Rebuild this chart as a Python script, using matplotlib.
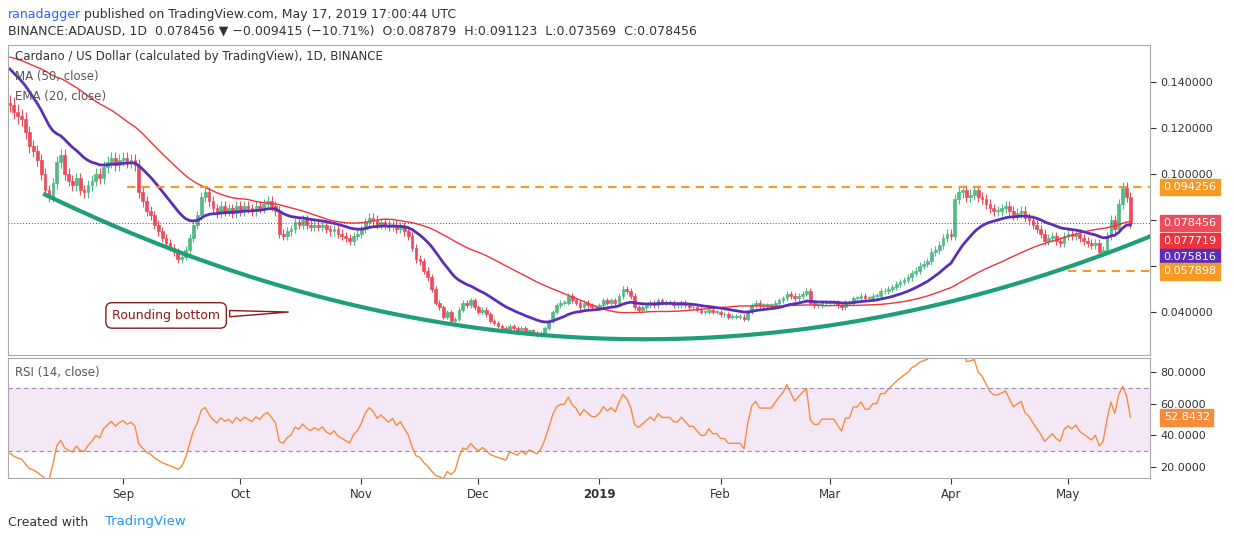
import numpy as np
import pandas as pd
import matplotlib
matplotlib.use("Agg")
import matplotlib.pyplot as plt
from matplotlib.patches import Rectangle

# closes before the visible window (warm-up for MA / RSI), mid-June to Aug 2 2018
pre = [.150,.148,.152,.155,.150,.146,.140,.136,.138,.142,.145,.140,.137,.141,.146,.150,.148,.152,.156,.160,
       .158,.154,.150,.147,.151,.156,.162,.166,.170,.168,.165,.160,.163,.168,.172,.170,.166,.160,.155,.150,
       .152,.148,.144,.140,.142,.138,.135,.133,.131]
aug = [.130,.127,.125,.124,.118,.112,.110,.106,.100,.093,.090,.096,.105,.108,.100,.097,.095,.098,.093,.092,.095,.097,.100,.098,.103,.105,.107,.104,.106]
sep = [.107,.105,.106,.104,.092,.088,.084,.082,.078,.075,.072,.070,.068,.066,.063,.064,.067,.072,.078,.082,.090,.092,.088,.085,.083,.086,.084,.085,.083,.086]
oct_ = [.084,.086,.085,.084,.086,.085,.087,.088,.086,.084,.074,.073,.075,.076,.079,.078,.080,.078,.077,.078,.077,.078,.076,.075,.076,.074,.073,.072,.071,.073,.074]
nov = [.076,.079,.081,.080,.078,.079,.078,.077,.078,.076,.077,.075,.073,.068,.063,.062,.058,.055,.050,.044,.042,.038,.040,.036,.037,.041,.044,.043,.045,.042]
dec = [.040,.041,.039,.036,.035,.034,.033,.032,.034,.033,.032,.033,.031,.032,.031,.030,.031,.033,.036,.040,.043,.044,.044,.047,.045,.044,.042,.044,.043,.042,.042]
jan = [.043,.045,.044,.045,.044,.047,.050,.049,.047,.042,.041,.042,.043,.044,.043,.045,.044,.044,.044,.043,.043,.044,.043,.042,.042,.041,.040,.040,.041,.040,.040]
feb = [.039,.039,.038,.038,.038,.038,.037,.040,.043,.044,.043,.043,.043,.043,.044,.045,.046,.048,.047,.046,.047,.048,.049,.044,.043,.043,.044,.044]
mar = [.044,.044,.043,.042,.044,.044,.046,.046,.047,.046,.046,.047,.047,.049,.049,.050,.051,.052,.053,.054,.055,.057,.058,.060,.061,.062,.066,.067,.069,.072,.074]
apr = [.073,.089,.092,.093,.090,.091,.093,.090,.089,.087,.085,.084,.084,.085,.086,.084,.082,.083,.084,.081,.080,.078,.076,.074,.071,.072,.073,.071,.070,.073]
may = [.074,.073,.074,.072,.071,.070,.069,.070,.066,.067,.073,.080,.076,.087,.094,.090,.078456]
month_labels = ["Sep", "Oct", "Nov", "Dec", "2019", "Feb", "Mar", "Apr", "May"]
resistance = 0.094256
support = 0.057898
last_tags = ["0.078456", "0.077719", "0.075816"]
rsi_tag = "52.8432"
# rounding bottom anchors (day index, price)
curve_pts = [(9, 0.091), (151, 0.0285), (292, 0.0728)]

allc = np.array(pre + aug + sep + oct_ + nov + dec + jan + feb + mar + apr + may)
npre = len(pre)
s = pd.Series(allc)
ma50_all = s.rolling(50, min_periods=1).mean().values
ema20_all = s.ewm(span=20, adjust=False).mean().values
d = s.diff()
up = d.clip(lower=0).ewm(alpha=1/14, adjust=False).mean()
dn = (-d.clip(upper=0)).ewm(alpha=1/14, adjust=False).mean()
rsi_all = (100 - 100 / (1 + up / dn)).values

closes = allc[npre:]
ma50 = ma50_all[npre:]; ema20 = ema20_all[npre:]; rsi = rsi_all[npre:]
dates = pd.date_range("2018-08-03", periods=len(closes), freq="D")
n = len(closes)
x = np.arange(n)
opens = allc[npre-1:-1]
highs = np.maximum(opens, closes) * 1.025
lows = np.minimum(opens, closes) * 0.975

fig = plt.figure(figsize=(12.34, 5.4), dpi=100)
W, H = 1234, 540
ax = fig.add_axes([8/W, (540-355)/H, 1142/W, 310/H])
ax2 = fig.add_axes([8/W, (540-478)/H, 1142/W, 120/H], sharex=ax)

upc, dnc = "#53b987", "#eb4d5c"
for i in range(n):
    c = upc if closes[i] >= opens[i] else dnc
    ax.vlines(x[i], lows[i], highs[i], color=c, lw=0.8)
    b = min(opens[i], closes[i]); h = max(abs(closes[i]-opens[i]), 0.0003)
    ax.add_patch(Rectangle((x[i]-0.35, b), 0.7, h, facecolor=c, edgecolor=c, lw=0.5))
ax.plot(x, ma50, color="#f0323c", lw=1)
ax.plot(x, ema20, color="#5b2fb5", lw=2)

cx = np.array([p[0] for p in curve_pts]); cy = np.array([p[1] for p in curve_pts])
coef = np.polyfit(cx, cy, 2)
xx = np.linspace(cx[0], cx[-1], 200)
ax.plot(xx, np.polyval(coef, xx), color="#1f9e7a", lw=3)

ax.hlines(resistance, 30, n+4, color="#f59a23", lw=1.5, linestyles=(0, (4, 3)))
ax.hlines(support, 271, n+4, color="#f59a23", lw=1.5, linestyles=(0, (4, 3)))
ax.axhline(closes[-1], color="#555555", lw=0.7, ls=(0, (1, 2)))

ax.set_xlim(-0.5, n+4)
ax.set_ylim(0.0213, 0.156)
ax.annotate("Rounding bottom", xy=(72, 0.04), xytext=(40, 0.0385), fontsize=9, color="#8b1a1a",
            ha="center", va="center",
            bbox=dict(boxstyle="round,pad=0.5", fc="white", ec="#8b1a1a", lw=1),
            arrowprops=dict(arrowstyle="wedge,tail_width=0.5", fc="white", ec="#8b1a1a", lw=1))

ax.text(0.006, 0.985, "Cardano / US Dollar (calculated by TradingView), 1D, BINANCE", transform=ax.transAxes,
        fontsize=8.5, va="top", color="#333")
ax.text(0.006, 0.92, "MA (50, close)", transform=ax.transAxes, fontsize=8.5, va="top", color="#555")
ax.text(0.006, 0.855, "EMA (20, close)", transform=ax.transAxes, fontsize=8.5, va="top", color="#555")

ax2.plot(x, rsi, color="#f58c3c", lw=1)
ax2.axhspan(30, 70, color="#9c27b0", alpha=0.1, lw=0)
for lv in (70, 30):
    ax2.axhline(lv, color="#9a8ab0", lw=0.8, ls=(0, (4, 3)))
ax2.set_ylim(13, 88.8)
ax2.text(0.006, 0.93, "RSI (14, close)", transform=ax2.transAxes, fontsize=8.5, va="top", color="#555")

for a in (ax, ax2):
    a.yaxis.tick_right()
    a.tick_params(axis="y", labelsize=8, colors="#333", length=4)
    for sp in a.spines.values():
        sp.set_color("#aaaaaa")
ax.set_yticks([0.04, 0.06, 0.08, 0.10, 0.12, 0.14])
ax.set_yticklabels(["0.040000", "", "", "0.100000", "0.120000", "0.140000"])
ax2.set_yticks([20, 40, 60, 80]); ax2.set_yticklabels(["20.0000", "40.0000", "60.0000", "80.0000"])
plt.setp(ax.get_xticklabels(), visible=False)
ax.tick_params(axis="x", length=0)
mstarts = [i for i in range(1, n) if dates[i].day == 1]
ax2.set_xticks(mstarts)
ax2.set_xticklabels(month_labels, fontsize=8.5)
for lbl in ax2.get_xticklabels():
    if lbl.get_text() == "2019": lbl.set_fontweight("bold")
ax2.tick_params(axis="x", length=4, colors="#333")

def tag(a, v, txt, fc, tc="white"):
    a.text(1.012, v, txt, transform=a.get_yaxis_transform(), fontsize=8, color=tc, va="center",
           bbox=dict(boxstyle="square,pad=0.3", fc=fc, ec=fc))
tag(ax, resistance, "0.094256", "#f59a23")
# stacked tags near the last price (spaced apart like the reference)
tag(ax, 0.0787, last_tags[0], "#eb4d5c")
tag(ax, 0.0709, last_tags[1], "#f0323c")
tag(ax, 0.0639, last_tags[2], "#5b2fb5")
tag(ax, 0.0576, "0.057898", "#f59a23")
tag(ax2, rsi[-1], rsi_tag, "#f58c3c")

fig.text(8/W, 1-8/H, "ranadagger", color="#2962ff", fontsize=9, va="top")
fig.text(84/W, 1-8/H, "published on TradingView.com, May 17, 2019 17:00:44 UTC", color="#333", fontsize=9, va="top")
fig.text(8/W, 1-24/H, "BINANCE:ADAUSD, 1D  0.078456 \u25bc \u22120.009415 (\u221210.71%)  O:0.087879  H:0.091123  L:0.073569  C:0.078456",
         color="#333", fontsize=9, va="top")
fig.text(8/W, 1-522/H, "Created with", fontsize=9, va="center", color="#333")
fig.text(105/W, 1-522/H, "TradingView", fontsize=9.5, va="center", color="#2196f3")
fig.savefig("out.png", dpi=100)
